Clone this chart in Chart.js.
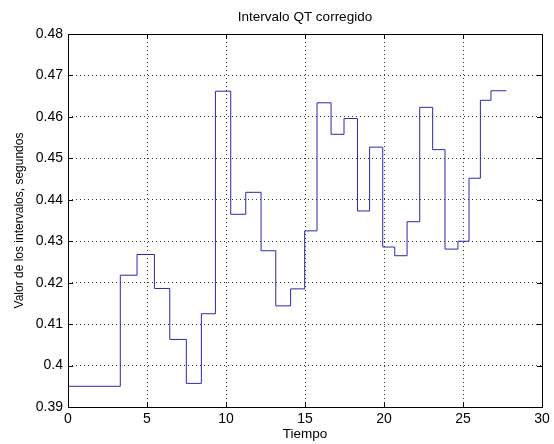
<!DOCTYPE html>
<html>
<head>
<meta charset="utf-8">
<script src="https://cdn.jsdelivr.net/npm/chart.js@4/dist/chart.umd.min.js"></script>
<style>
html,body{margin:0;padding:0;background:#fff;}
#wrap{width:554px;height:444px;position:relative;}
</style>
</head>
<body>
<div id="wrap"><canvas id="c" width="554" height="444"></canvas></div>
<script>
const times = [0, 3.31, 4.37, 5.47, 6.44, 7.49, 8.44, 9.33, 10.3, 11.25, 12.22, 13.15, 14.09, 14.98, 15.76, 16.65, 17.47, 18.32, 19.09, 19.92, 20.68, 21.46, 22.26, 23.08, 23.86, 24.68, 25.38, 26.1, 26.77, 27.75];
const qtValues = [0.395, 0.4218, 0.4268, 0.4186, 0.4063, 0.3957, 0.4125, 0.4662, 0.4365, 0.4418, 0.4277, 0.4144, 0.4185, 0.4325, 0.4634, 0.4558, 0.4596, 0.4373, 0.4527, 0.4286, 0.4265, 0.4347, 0.4623, 0.4521, 0.4281, 0.4300, 0.4452, 0.4640, 0.4663, 0.4663];
const xTickLabels = ['0', '5', '10', '15', '20', '25', '30'];
const yTickLabels = ['0.39', '0.4', '0.41', '0.42', '0.43', '0.44', '0.45', '0.46', '0.47', '0.48'];
const titleText = 'Intervalo QT corregido';
const xTitle = 'Tiempo';
const yTitle = 'Valor de los intervalos, segundos';

const points = times.map((t, i) => ({x: t, y: qtValues[i]}));

const boxPlugin = {
  id: 'box',
  afterDatasetsDraw(chart) {
    const {ctx, chartArea: a, scales} = chart;
    ctx.save();
    ctx.strokeStyle = '#000';
    ctx.lineWidth = 1;
    ctx.beginPath();
    const L = 5;
    scales.x.ticks.forEach(t => {
      const px = Math.round(scales.x.getPixelForValue(t.value)) + 0.5;
      ctx.moveTo(px, a.bottom); ctx.lineTo(px, a.bottom - L);
      ctx.moveTo(px, a.top); ctx.lineTo(px, a.top + L);
    });
    scales.y.ticks.forEach(t => {
      const py = Math.round(scales.y.getPixelForValue(t.value)) + 0.5;
      ctx.moveTo(a.left, py); ctx.lineTo(a.left + L, py);
      ctx.moveTo(a.right, py); ctx.lineTo(a.right - L, py);
    });
    ctx.stroke();
    ctx.strokeRect(Math.round(a.left) + 0.5, Math.round(a.top) + 0.5, Math.round(a.right - a.left), Math.round(a.bottom - a.top));
    ctx.restore();
  }
};

const family = '"Liberation Sans", Arial, sans-serif';
const tickFont = {family: family, size: 14};
const labelFont = {family: family, size: 13.5};

new Chart(document.getElementById('c'), {
  type: 'line',
  data: {
    datasets: [{
      data: points,
      stepped: true,
      borderColor: 'rgb(40,40,170)',
      borderWidth: 1,
      pointRadius: 0,
      fill: false,
      tension: 0
    }]
  },
  options: {
    responsive: false,
    animation: false,
    devicePixelRatio: 1,
    layout: {padding: {left: 0, right: 12, top: 0, bottom: 0}},
    plugins: {
      legend: {display: false},
      tooltip: {enabled: false},
      title: {
        display: true,
        fullSize: false,
        text: titleText,
        color: '#000',
        font: {family: family, size: 13.5, weight: 'normal'},
        padding: {top: 9, bottom: 8.8}
      }
    },
    scales: {
      x: {
        type: 'linear',
        min: 0, max: 30,
        afterFit(s) { s.height = 37; },
        ticks: {
          stepSize: 5,
          color: '#000',
          font: tickFont,
          padding: 4,
          maxRotation: 0,
          callback: (v, i) => xTickLabels[i]
        },
        grid: {
          color: '#333',
          lineWidth: 1,
          drawTicks: false
        },
        border: {display: false, dash: [1, 3]},
        title: {
          display: true,
          text: xTitle,
          color: '#000',
          font: labelFont,
          padding: {top: 0, bottom: 1.9}
        }
      },
      y: {
        type: 'linear',
        min: 0.39, max: 0.48,
        afterFit(s) { s.width = 68; },
        ticks: {
          stepSize: 0.01,
          color: '#000',
          font: tickFont,
          padding: 5,
          callback: (v, i) => yTickLabels[i]
        },
        grid: {
          color: '#333',
          lineWidth: 1,
          drawTicks: false
        },
        border: {display: false, dash: [1, 3]},
        title: {
          display: true,
          text: yTitle,
          color: '#000',
          font: {family: family, size: 12},
          padding: {top: 12, bottom: 0}
        }
      }
    }
  },
  plugins: [boxPlugin]
});
</script>
</body>
</html>
